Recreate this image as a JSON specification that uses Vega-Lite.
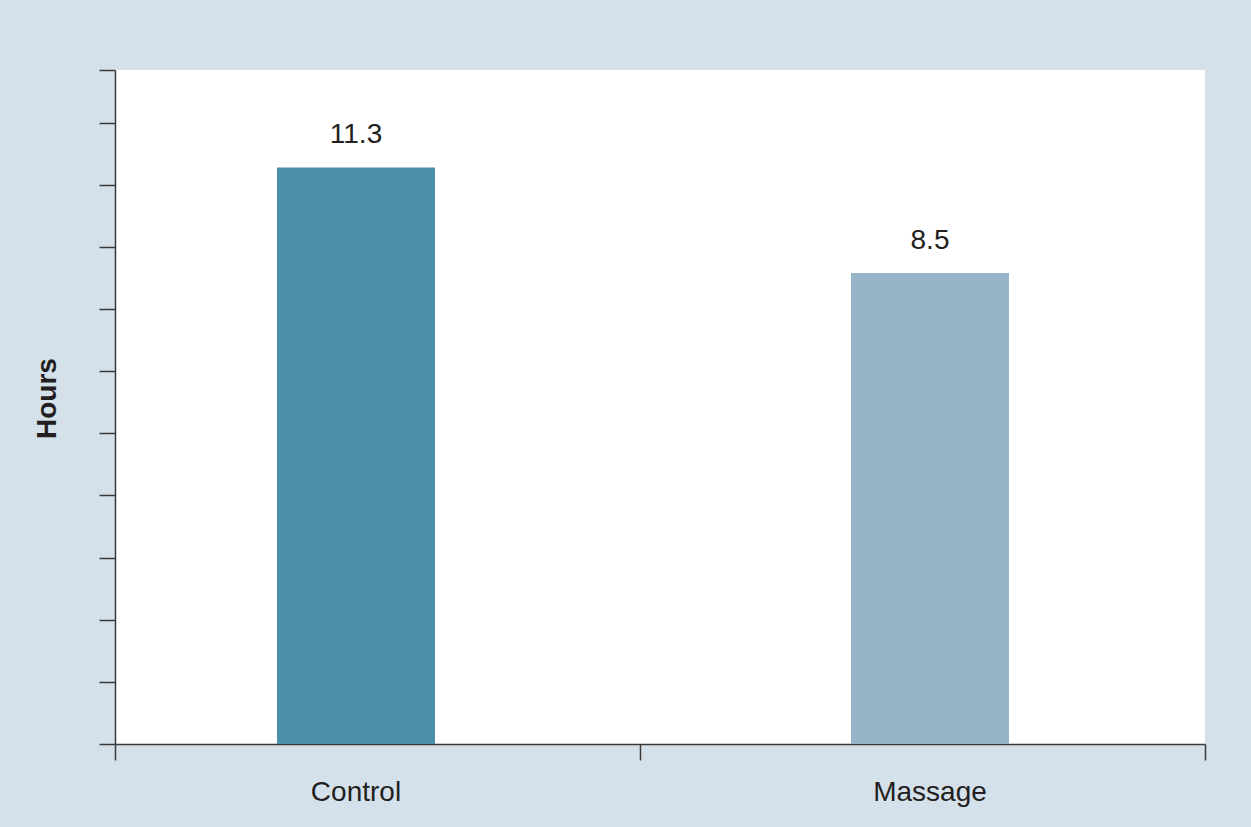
{
  "$schema": "https://vega.github.io/schema/vega-lite/v6.json",
  "width": 1090,
  "height": 674,
  "autosize": {"type": "none"},
  "padding": {"left": 115, "top": 70, "right": 46, "bottom": 83},
  "background": "#d5e1ea",
  "config": {
    "view": {"stroke": null, "fill": "#ffffff"},
    "font": "Liberation Sans",
    "axis": {"domainColor": "#3a3a3a", "tickColor": "#3a3a3a", "domainWidth": 1.5, "tickWidth": 1.5, "grid": false}
  },
  "data": {
    "values": [
      {"group": "Control", "hours": 11.3},
      {"group": "Massage", "hours": 8.5}
    ]
  },
  "encoding": {
    "y": {
      "field": "hours",
      "type": "quantitative",
      "scale": {"domain": [-4.015, 13.89], "zero": false, "nice": false},
      "axis": {
        "values": [-4.015, -2.364, -0.714, 0.937, 2.587, 4.238, 5.889, 7.539, 9.19, 10.84, 12.491, 13.89],
        "labels": false,
        "ticks": true,
        "tickSize": 16,
        "title": "Hours",
        "titleFontSize": 28,
        "titleFontWeight": "bold",
        "titleColor": "#231f20",
        "titleAngle": -90,
        "titleX": -68,
        "titleY": 328,
        "titleAlign": "center",
        "titleBaseline": "middle"
      }
    }
  },
  "layer": [
    {
      "encoding": {
        "x": {
          "field": "group",
          "type": "nominal",
          "sort": null,
          "scale": {"paddingInner": 0.7247, "paddingOuter": 0.3118, "align": 0.4525},
          "axis": {
            "title": null,
            "ticks": false,
            "domain": false,
            "labelAngle": 0,
            "labelFontSize": 28,
            "labelColor": "#231f20",
            "labelPadding": 34
          }
        }
      },
      "layer": [
        {
          "mark": {"type": "bar"},
          "encoding": {
            "y2": {"datum": -4.015},
            "color": {
              "field": "group",
              "type": "nominal",
              "sort": null,
              "scale": {"range": ["#4c8fa8", "#97b5c8"]},
              "legend": null
            }
          }
        },
        {
          "mark": {"type": "text", "dy": -24, "baseline": "alphabetic", "fontSize": 28, "color": "#231f20"},
          "encoding": {
            "text": {"field": "hours", "type": "quantitative", "format": ".1f"}
          }
        }
      ]
    },
    {
      "mark": {"type": "rule", "opacity": 0},
      "encoding": {
        "x": {
          "datum": 0,
          "type": "quantitative",
          "scale": {"domain": [0, 2], "nice": false, "zero": false},
          "axis": {
            "title": null,
            "labels": false,
            "ticks": true,
            "tickSize": 16,
            "values": [0, 0.9633, 2],
            "domain": true,
            "orient": "bottom"
          }
        }
      }
    }
  ],
  "resolve": {"scale": {"x": "independent"}, "axis": {"x": "independent"}}
}
